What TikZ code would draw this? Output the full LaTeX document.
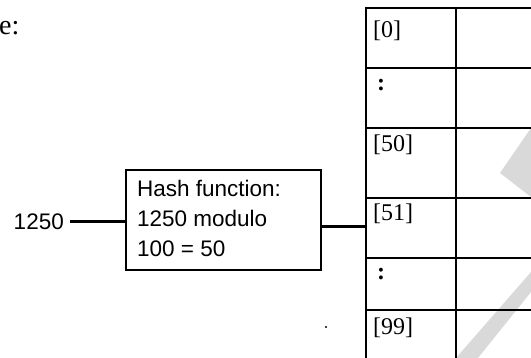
\documentclass[tikz,border=0pt]{standalone}
\usepackage{fontspec}
\setmainfont{Liberation Serif}
\newfontfamily\arialf{Liberation Sans}
\begin{document}
\begin{tikzpicture}[x=1pt,y=-1pt,
  sanslbl/.style={font=\arialf\fontsize{22.5}{30}\selectfont, inner sep=0pt},
  seriflbl/.style={font=\fontsize{24}{26}\selectfont, inner sep=0pt, anchor=north west},
  thickln/.style={line width=2.8pt},
  gridln/.style={line width=2.4pt},
  thinln/.style={line width=1.5pt},
  wm/.style={fill=black!15, draw=none}]
\useasboundingbox (0,0) rectangle (531,358);
% watermark shapes
\fill[wm] (531,128) -- (500,173) -- (531,197) -- cycle;
\fill[wm] (456,358) -- (531,272) -- (531,292) -- (478,358) -- cycle;
% table
\draw[thickln] (366,8) -- (531,8);
\draw[gridln] (366,68) -- (531,68);
\draw[gridln] (366,128) -- (531,128);
\draw[gridln] (366,198) -- (531,198);
\draw[thinln] (366,258) -- (531,258);
\draw[gridln] (366,310) -- (531,310);
\draw[thickln] (366,6.6) -- (366,358);
\draw[thinln] (456,8) -- (456,358);
\node[seriflbl] (r0) at (373,21) {[0]};
\node[seriflbl] (r1) at (377,79) {\textbf{:}};
\node[seriflbl] (r50) at (373,135) {[50]};
\node[seriflbl] (r51) at (373,204) {[51]};
\node[seriflbl] (r2) at (377,268) {\textbf{:}};
\node[seriflbl] (r99) at (373,318) {[99]};
\coordinate (tin) at (366,227);
% caption fragment
\node[seriflbl, font=\fontsize{28}{30}\selectfont] (e) at (-1,21) {e:};
% hash box
\node[draw, line width=2pt, minimum width=195pt, minimum height=100pt, inner sep=0pt] (hb) at (223.5,220) {};
\node[sanslbl, anchor=north west, align=left] (ht) at (137,180) {Hash function:\\1250 modulo\\100 = 50};
\node[sanslbl, anchor=east] (key) at (64,222) {1250};
\draw[line width=3pt] (key.east) ++(6pt,0) coordinate (ks) -- (hb.west |- ks);
\draw[line width=3pt] (hb.east |- tin) -- (tin);
\fill (326,327) circle (1.2pt);
\end{tikzpicture}
\end{document}
